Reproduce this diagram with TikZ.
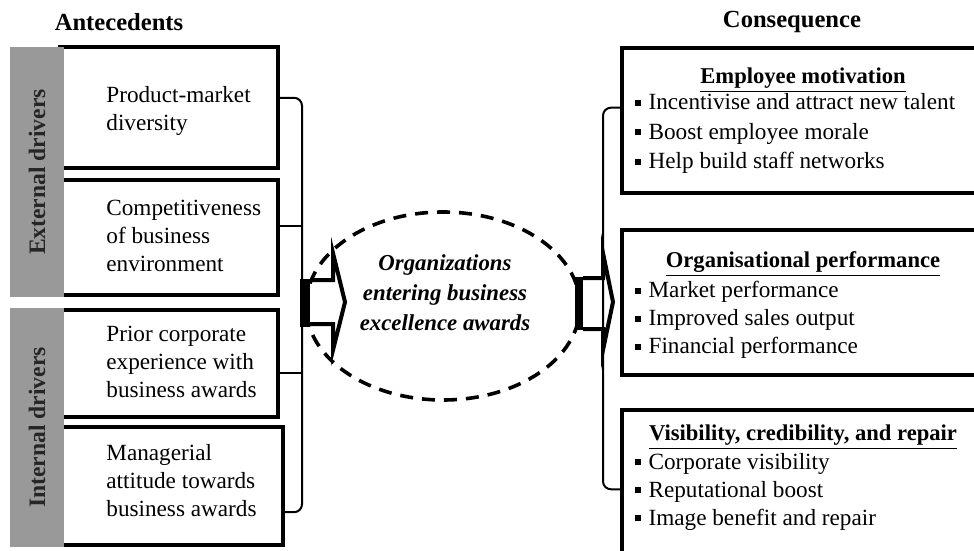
\documentclass[tikz,border=0pt]{standalone}
\usepackage{fontspec}
\setmainfont{Liberation Serif}
\usetikzlibrary{shapes.geometric}
\tikzset{
  dbox/.style={draw, line width=2pt, rectangle, inner sep=0pt, minimum width=109pt},
  gbar/.style={fill=black!40, rotate=90, inner sep=0pt, minimum height=27pt, text=black!85, font=\fontsize{11.8}{13}\selectfont\bfseries},
  txt/.style={anchor=west, align=left, inner sep=0pt, font=\fontsize{11.6}{14}\selectfont},
  hd/.style={inner sep=0pt, font=\fontsize{12.3}{13}\selectfont\bfseries},
  brk/.style={line width=1pt, rounded corners=4pt},
  cbox/.style={draw, line width=2pt, rectangle, inner sep=0pt, minimum width=181.5pt},
  ttl/.style={inner sep=0pt, font=\fontsize{11.3}{13}\selectfont\bfseries},
  blk/.style={line width=2pt, line join=miter},
}
\newcommand{\sqb}{\raisebox{0.16em}{\rule{2.6pt}{3pt}}\hspace{4pt}}

\begin{document}
\begin{tikzpicture}[x=0.5pt, y=-0.5pt]
  \useasboundingbox (0,0) rectangle (974,551);
  \clip (0,0) rectangle (974,551);
  % headings
  \node[hd] (ante) at (119,22) {Antecedents};
  \node[hd] (cons) at (792,22) {Consequence};
  % antecedents
  \node[dbox, minimum height=60.5pt] (pmd) at (169,107.5) {};
  \node[dbox, minimum height=57.5pt] (cbe) at (169,237.5) {};
  \node[dbox, minimum height=53.5pt] (pce) at (169,363.5) {};
  \node[dbox, minimum width=111.5pt, minimum height=59pt] (mat) at (171.5,486) {};
  \node[txt] (pmdt) at (106,111) {Product-market\\diversity};
  \node[txt] (cbet) at (106,236) {Competitiveness\\of business\\environment};
  \node[txt] (pcet) at (106,362) {Prior corporate\\experience with\\business awards};
  \node[txt] (matt) at (106,481) {Managerial\\attitude towards\\business awards};
  % drivers
  \node[gbar, minimum width=125pt] (ext) at (37,172) {External drivers};
  \node[gbar, minimum width=119.5pt] (int) at (37,427.5) {Internal drivers};
  % left bracket
  \coordinate (lbx) at (302,300);
  \draw[brk] (pmd.5) -- (pmd.5 -| lbx) -- (mat.-13.6 -| lbx) -- (mat.-13.6);
  \draw[brk] (cbe.6.5) -- (cbe.6.5 -| lbx);
  \draw[brk] (pce.-5) -- (pce.-5 -| lbx);
  % centre
  \node[ellipse, draw, line width=1.8pt, dash pattern=on 6.5pt off 4.5pt,
        minimum width=137pt, minimum height=94pt] (oeba) at (443,306) {};
  \node[align=center, inner sep=0pt, font=\fontsize{11.4}{15}\selectfont\bfseries\itshape]
        (oebat) at (445,293) {Organizations\\entering business\\excellence awards};
  \fill (300,279) rectangle (310,327);
  \draw[blk] (310,280) -- (333,280) -- (333,253) -- (345,302) -- (333,350) -- (333,324) -- (310,324);
  % consequences
  \node[cbox, minimum height=72.5pt] (emo) at (803.5,120.5) {};
  \node[cbox, minimum height=72.5pt] (orp) at (803.5,302.5) {};
  \node[cbox, minimum height=82.5pt] (vcr) at (803.5,492.5) {};
  \node[ttl] (emot) at (803,80) {\underline{Employee motivation}};
  \node[txt, font=\fontsize{11.6}{14.7}\selectfont] (emol) at (635,133.5) {\sqb Incentivise and attract new talent\\\sqb Boost employee morale\\\sqb Help build staff networks};
  \node[ttl] (orpt) at (803,264) {\underline{Organisational performance}};
  \node[txt] (orpl) at (635,320) {\sqb Market performance\\\sqb Improved sales output\\\sqb Financial performance};
  \node[ttl] (vcrt) at (803,437) {\underline{Visibility, credibility, and repair}};
  \node[txt] (vcrl) at (635,491.5) {\sqb Corporate visibility\\\sqb Reputational boost\\\sqb Image benefit and repair};
  % right bracket
  \coordinate (rbx) at (603,300);
  \draw[brk] (emo.176) -- (emo.176 -| rbx) -- (vcr.179 -| rbx) -- (vcr.179);
  \fill (575,277) rectangle (583,330);
  \draw[blk] (583,278) -- (603,278) -- (603,253) -- (613,302) -- (603,350) -- (603,329) -- (583,329);
\end{tikzpicture}
\end{document}
